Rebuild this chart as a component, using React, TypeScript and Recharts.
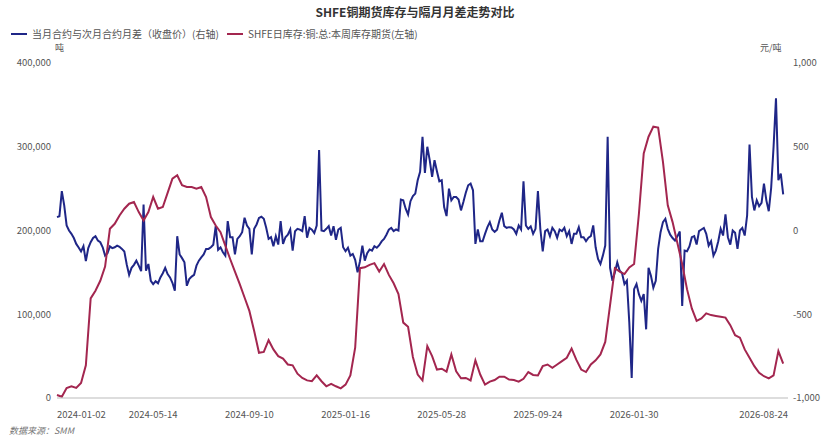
import React from "react";
import { LineChart, Line, XAxis, YAxis } from "recharts";

// 月差（右轴，元/吨），约半周一个点
const blueSpread = [
  80, 85, 235, 150, 30, 0, -20, -45, -80, -101, -125, -94, -183, -105, -70, -45, -34, -60, -70, -100,
  -150, -135, -95, -105, -100, -90, -97, -110, -125, -203, -265, -223, -205, -180, -210, -243, 155, -240, -200, -300,
  -320, -303, -315, -280, -255, -223, -260, -280, -312, -360, -34, -143, -165, -190, -330, -290, -275, -265, -210, -180,
  -160, -143, -110, -110, -100, -85, 26, -115, -101, -130, -150, 56, -40, -40, -143, -50, -34, -10, 76, 30,
  10, -143, 10, 36, 75, 82, 70, 16, -50, -40, -94, -34, -84, 56, -80, -40, -25, 6, -120, -4,
  10, 5, -4, 86, -43, 15, 5, -15, 30, 480, 0, -4, 10, 26, -30, 26, -55, 6, 16, -100,
  -124, -103, -150, -140, -175, -250, -183, -90, -180, -135, -113, -120, -94, -103, -88, -65, -50, -25, 5, 16,
  -4, 6, 0, 185, 180, 130, 96, 175, 205, 220, 300, 350, 560, 344, 500, 420, 320, 420, 354, 294,
  300, 140, 86, 250, 180, 200, 200, 185, 120, 170, 225, 270, 280, 240, -80, 6, -64, -64, -20, 20,
  50, 6, -8, 5, 60, 106, 26, 16, 20, 18, 6, -20, 30, 6, 294, 30, 10, 25, -20, 10,
  235, 10, -125, -4, 6, -34, 16, -4, -43, 6, -4, 16, -34, -4, -80, -20, -20, 20, -40, -40,
  -64, -43, -34, 30, -100, -170, -200, -150, -90, 560, -223, -300, -250, -190, -240, -255, -320, -300, -550, -880,
  -350, -320, -380, -420, -380, -590, -223, -270, -342, -300, -110, -10, 50, 70, 10, -25, -45, -60, -35, -6,
  -450, -120, -124, -95, -40, -34, -84, -4, 6, 15, -20, -90, -64, -150, -120, -64, 10, -30, 96, -40,
  -84, 0, -14, -110, 0, 15, -30, 90, 513, 200, 120, 180, 145, 165, 280, 180, 115, 255, 500, 790,
  300, 340, 215,
];

// 库存（左轴，吨），约每周一个点
const redStock = [
  3600, 1600, 12000, 14000, 12000, 18000, 39000, 119000, 128000, 140000,
  157000, 202000, 208000, 218000, 226000, 232000, 234000, 222000, 212000, 222000,
  240000, 226000, 228000, 245000, 262000, 266000, 254000, 252000, 252000, 250000,
  252000, 240000, 216000, 206000, 198000, 182000, 166000, 151000, 136000, 120000,
  104000, 80000, 54000, 55000, 69000, 58000, 50000, 47000, 40000, 39000,
  29000, 24000, 21000, 20000, 27000, 20000, 14000, 17000, 14000, 11500,
  16000, 27000, 60000, 155000, 156000, 159000, 161000, 151000, 160000, 147000,
  137000, 124000, 90000, 85000, 49000, 28000, 21000, 62000, 50000, 34000,
  35000, 31500, 52000, 32000, 23500, 24000, 21000, 45000, 28000, 16000,
  19500, 21500, 25500, 25500, 22000, 21500, 19500, 23000, 31000, 27500,
  27000, 38000, 40000, 36000, 40000, 44000, 48000, 59000, 45500, 34000,
  31000, 40000, 45000, 52000, 67000, 111000, 155000, 151000, 148000, 156000,
  160000, 220000, 292000, 312000, 324000, 323000, 282000, 230000, 210000, 185000,
  160000, 130000, 107000, 92000, 95000, 101000, 99000, 98000, 97000, 96000,
  87000, 75000, 72000, 58000, 48000, 38000, 30000, 26000, 23500, 27000,
  56000, 41000,
];

const tickSlots = [0, 20, 40, 60, 80, 100, 120, 152];
const tickLabels = ["2024-01-02", "2024-05-14", "2024-09-10", "2025-01-16", "2025-05-28", "2025-09-24", "2026-01-30", "2026-08-24"];
const leftTicks = [0, 100000, 200000, 300000, 400000];
const rightTicks = [-1000, -500, 0, 500, 1000];

const BLUE = "#1f2687";
const RED = "#a3264f";
const FONT = "'Noto Sans CJK SC', 'Noto Sans', sans-serif";

const rows = blueSpread.map((v, j) => ({
  x: j / 2,
  spread: v,
  stock: j % 2 === 0 ? redStock[j / 2] : undefined,
}));

const fmt = (v: number) => v.toLocaleString("en-US");

function DateTick(props: any) {
  const { x, y, payload } = props;
  const i = tickSlots.indexOf(payload.value);
  const anchor = i === 0 ? "start" : i === tickSlots.length - 1 ? "end" : "middle";
  return (
    <text x={x} y={y + 12} textAnchor={anchor} fontSize={9.5} fill="#555" fontFamily={FONT}>
      {tickLabels[i]}
    </text>
  );
}

function LegendItem({ color, label, left }: { color: string; label: string; left: number }) {
  return (
    <div style={{ position: "absolute", left, top: 26, display: "flex", alignItems: "center", whiteSpace: "nowrap" }}>
      <span style={{ display: "inline-block", width: 16, height: 2, background: color, marginRight: 5 }} />
      <span style={{ fontSize: 10, color: "#555" }}>{label}</span>
    </div>
  );
}

export default function App() {
  return (
    <div style={{ position: "absolute", left: 0, top: 0, width: 830, height: 437, background: "#fff", fontFamily: FONT }}>
      <div style={{ position: "absolute", left: 0, width: 830, top: 3, textAlign: "center", fontSize: 12, fontWeight: 700, color: "#333" }}>
        SHFE铜期货库存与隔月月差走势对比
      </div>
      <LegendItem color={BLUE} label="当月合约与次月合约月差（收盘价）(右轴)" left={11} />
      <LegendItem color={RED} label="SHFE日库存:铜:总:本周库存期货(左轴)" left={227} />
      <div style={{ position: "absolute", left: 55, top: 41, fontSize: 9, color: "#555" }}>吨</div>
      <div style={{ position: "absolute", left: 760, top: 41, fontSize: 9, color: "#555" }}>元/吨</div>
      <div style={{ position: "absolute", left: 9, top: 424, fontSize: 9, color: "#777", fontStyle: "italic" }}>数据来源：SMM</div>

      <LineChart width={830} height={437} data={rows} margin={{ top: 63, right: 0, bottom: 0, left: 0 }}>
        <XAxis
          dataKey="x"
          type="number"
          domain={[0, 152]}
          ticks={tickSlots}
          interval={0}
          tick={<DateTick />}
          tickLine={false}
          axisLine={{ stroke: "#bbb" }}
          height={39}
        />
        <YAxis
          yAxisId="left"
          domain={[0, 400000]}
          ticks={leftTicks}
          tickFormatter={fmt}
          width={57}
          axisLine={false}
          tickLine={false}
          tickSize={0}
          tickMargin={6}
          tick={{ fontSize: 9.5, fill: "#555", fontFamily: FONT }}
        />
        <YAxis
          yAxisId="right"
          orientation="right"
          domain={[-1000, 1000]}
          ticks={rightTicks}
          tickFormatter={fmt}
          width={42}
          axisLine={false}
          tickLine={false}
          tickSize={0}
          tickMargin={5}
          tick={{ fontSize: 9.5, fill: "#555", fontFamily: FONT }}
        />
        <Line
          yAxisId="right"
          dataKey="spread"
          stroke={BLUE}
          strokeWidth={2}
          dot={false}
          isAnimationActive={false}
        />
        <Line
          yAxisId="left"
          dataKey="stock"
          stroke={RED}
          strokeWidth={2}
          dot={false}
          connectNulls
          isAnimationActive={false}
        />
      </LineChart>
    </div>
  );
}
